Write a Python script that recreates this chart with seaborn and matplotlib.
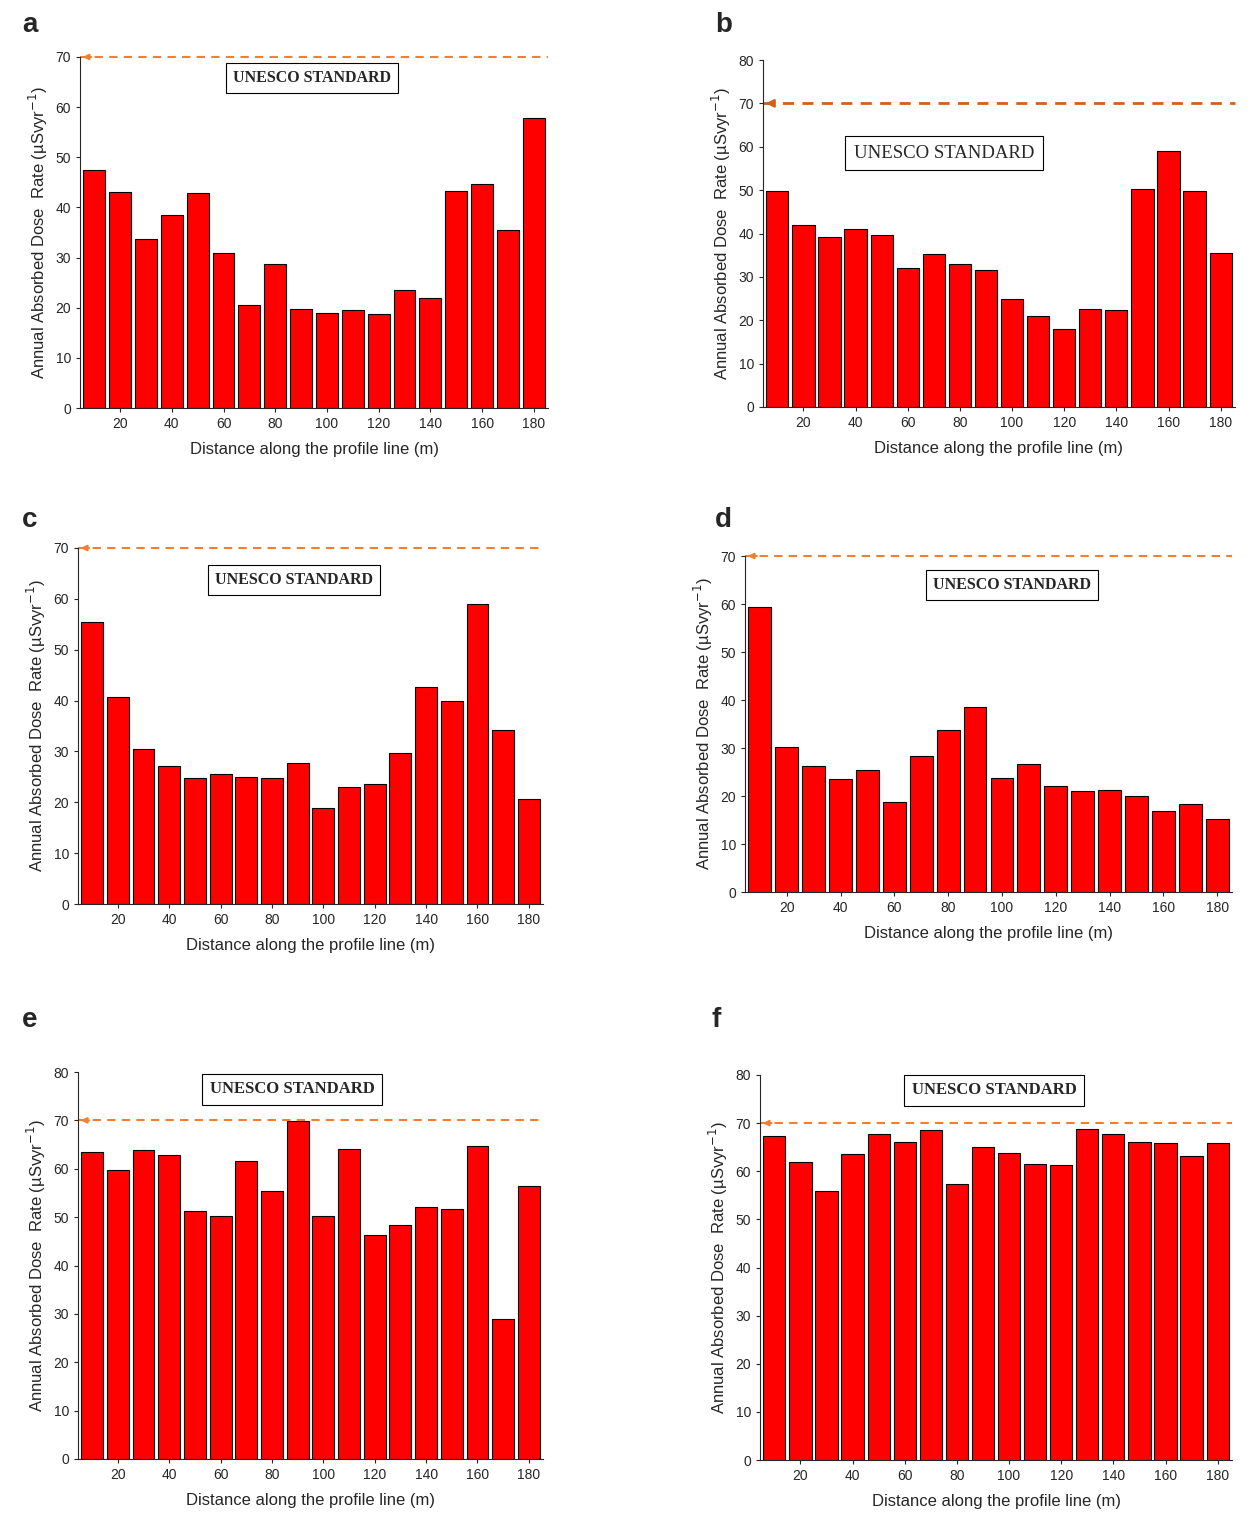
import matplotlib
matplotlib.use("Agg")
import matplotlib.pyplot as plt
import seaborn as sns
import pandas as pd

sns.set_style("ticks")
plt.rcParams['font.family'] = ['Liberation Sans', 'DejaVu Sans']

distance = [10, 20, 30, 40, 50, 60, 70, 80, 90, 100, 110, 120, 130, 140, 150, 160, 170, 180]
dose_a = [47.5, 43, 33.8, 38.5, 42.8, 31, 20.5, 28.8, 19.8, 19, 19.5, 18.8, 23.5, 22, 43.2, 44.6, 35.5, 57.8]
dose_b = [49.7, 42, 39.2, 41, 39.7, 32, 35.2, 33, 31.5, 24.8, 21, 18, 22.6, 22.4, 50.3, 59, 49.8, 35.6]
dose_c = [55.5, 40.8, 30.4, 27.2, 24.8, 25.5, 25, 24.8, 27.8, 18.8, 23, 23.6, 29.6, 42.6, 40, 59, 34.3, 20.7]
dose_d = [59.3, 30.2, 26.3, 23.5, 25.5, 18.8, 28.3, 33.8, 38.5, 23.8, 26.7, 22, 21, 21.3, 20.1, 16.8, 18.4, 15.2]
dose_e = [63.5, 59.8, 63.8, 62.8, 51.2, 50.3, 61.7, 55.5, 69.8, 50.2, 64.1, 46.3, 48.3, 52, 51.7, 64.6, 29, 56.4]
dose_f = [67.3, 62, 55.8, 63.5, 67.7, 66, 68.5, 57.3, 65, 63.7, 61.5, 61.2, 68.7, 67.8, 66, 65.8, 63.1, 65.8]
unesco = 70
xticks = [20, 40, 60, 80, 100, 120, 140, 160, 180]

W, H = 1254, 1524
fig = plt.figure(figsize=(W/100, H/100), dpi=100)

panels = [
    ("a", dose_a, 70, (80, 548, 57, 408), (22, 25), (312, 78)),
    ("b", dose_b, 80, (763, 1235, 60, 407), (715, 25), (944, 153)),
    ("c", dose_c, 70, (78, 543, 548, 904), (22, 520), (294, 580)),
    ("d", dose_d, 70, (745, 1232, 556, 892), (715, 520), (1012, 585)),
    ("e", dose_e, 80, (78, 543, 1072, 1459), (22, 1020), (292, 1089)),
    ("f", dose_f, 80, (760, 1232, 1075, 1460), (712, 1020), (994, 1090)),
]
box_fs = {"a": 11.5, "b": 13.5, "c": 11.5, "d": 11.5, "e": 12, "f": 12}

for letter, vals, ymax, (l, r, t, b), (lx, ly), (bx, by) in panels:
    ax = fig.add_axes([l/W, 1 - b/H, (r-l)/W, (b-t)/H])
    df = pd.DataFrame({"x": distance, "y": vals})
    sns.barplot(data=df, x="x", y="y", native_scale=True, width=0.85,
                color="#ff0000", saturation=1, edgecolor="black", linewidth=0.8, ax=ax)
    ax.set_xlim(4.5, 185.5)
    ax.set_ylim(0, ymax)
    ax.set_xticks(xticks)
    ax.set_yticks(range(0, ymax + 1, 10))
    ax.tick_params(labelsize=10, direction="out", length=3)
    sns.despine(ax=ax)
    ax.set_xlabel("Distance along the profile line (m)", fontsize=12, labelpad=8)
    ax.set_ylabel("Annual Absorbed Dose  Rate (\u00b5Svyr$^{-1}$)", fontsize=12)
    lc = "#d2601a" if letter == "b" else "#f08030"
    ax.axhline(unesco, color=lc, ls=(0, (4, 3)), lw=2 if letter == "b" else 1.5, clip_on=False)
    ax.annotate("", xy=(0.0, unesco), xytext=(0.03, unesco),
                xycoords=("axes fraction", "data"), textcoords=("axes fraction", "data"),
                arrowprops=dict(arrowstyle="-|>", color=lc, lw=1.5, mutation_scale=12 if letter == "b" else 8))
    fig.text(bx/W, 1 - by/H, "UNESCO STANDARD", fontsize=box_fs[letter],
             family="Liberation Serif", fontweight="bold" if letter != "b" else "normal",
             ha="center", va="center",
             bbox=dict(boxstyle="square,pad=0.45", fc="white", ec="black", lw=0.8))
    fig.text(lx/W, 1 - ly/H, letter, fontsize=20, fontweight="bold", ha="left", va="center")

fig.savefig("out.png", dpi=100)
